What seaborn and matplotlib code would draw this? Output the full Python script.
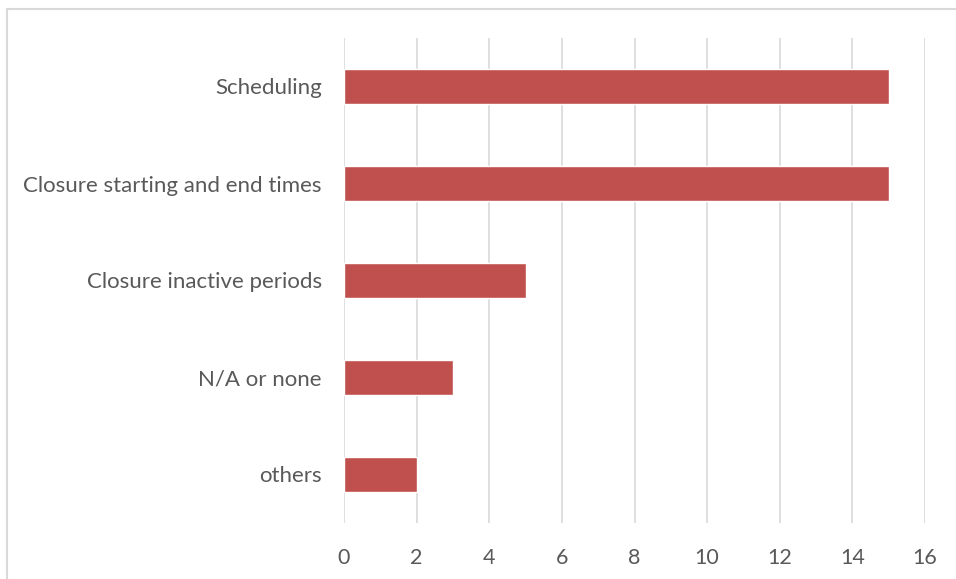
import pandas as pd
import matplotlib.pyplot as plt
import seaborn as sns
from matplotlib.lines import Line2D

categories = ['Scheduling', 'Closure starting and end times', 'Closure inactive periods',
              'N/A or none', 'others']
counts = [15, 15, 5, 3, 2]
x_ticks = [0, 2, 4, 6, 8, 10, 12, 14, 16]

df = pd.DataFrame({'category': categories, 'count': counts})

sns.set_style('white')
plt.rcParams['font.family'] = ['Lato', 'DejaVu Sans']

fig = plt.figure(figsize=(9.56, 5.79), dpi=100)
ax = fig.add_axes([344 / 956, 1 - 523 / 579, 581 / 956, 485 / 579])

sns.barplot(data=df, x='count', y='category', orient='h', color='#C0504D',
            saturation=1, width=0.36, ax=ax)

ax.set_xlim(0, 16)
ax.set_xticks(x_ticks)
ax.set_xlabel('')
ax.set_ylabel('')
ax.xaxis.grid(True, color='#D9D9D9', linewidth=1.2)
ax.set_axisbelow(True)
for s in ax.spines.values():
    s.set_visible(False)
ax.tick_params(axis='y', length=0, pad=16, labelsize=16, labelcolor='#595959')
ax.tick_params(axis='x', length=0, pad=18, labelsize=15.5, labelcolor='#595959')

# chart border like the spreadsheet frame
fig.add_artist(Line2D([7 / 956, 7 / 956], [1 - 9 / 579, 0], color='#D9D9D9',
                      linewidth=1.5, transform=fig.transFigure))
fig.add_artist(Line2D([7 / 956, 1], [1 - 9 / 579, 1 - 9 / 579], color='#D9D9D9',
                      linewidth=1.5, transform=fig.transFigure))

plt.savefig('out.png', dpi=100)
